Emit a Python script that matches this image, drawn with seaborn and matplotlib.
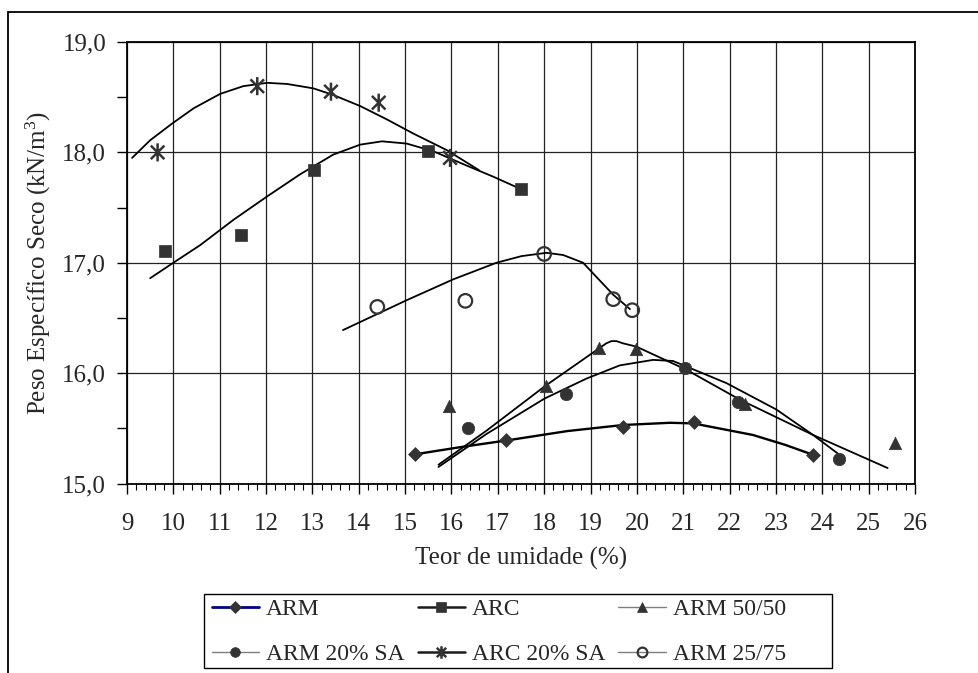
import numpy as np
import pandas as pd
import matplotlib
matplotlib.use("Agg")
import matplotlib.pyplot as plt
import seaborn as sns
from matplotlib.path import Path
from matplotlib.lines import Line2D
from matplotlib.patches import Rectangle
from matplotlib.ticker import MultipleLocator, FuncFormatter

arm_x = [15.22, 17.18, 19.70, 21.23, 23.81]
arm_y = [15.27, 15.39, 15.51, 15.56, 15.26]
arc_x = [9.82, 11.47, 13.03, 15.50, 17.49]
arc_y = [17.11, 17.25, 17.84, 18.01, 17.67]
arm5050_x = [15.95, 18.04, 19.18, 19.99, 22.33, 25.56]
arm5050_y = [15.70, 15.88, 16.23, 16.22, 15.72, 15.365]
arm20_x = [16.36, 18.48, 21.04, 22.18, 24.37]
arm20_y = [15.50, 15.81, 16.05, 15.74, 15.225]
arc20_x = [9.66, 11.81, 13.40, 14.43, 15.97]
arc20_y = [18.00, 18.60, 18.55, 18.45, 17.95]
arm2575_x = [14.40, 16.30, 18.00, 19.49, 19.90]
arm2575_y = [16.60, 16.655, 17.08, 16.67, 16.57]

# ---------------- trend curves ----------------
arm_fit_x = [15.22, 16.20, 17.19, 18.50, 19.70, 20.71, 21.21, 22.50, 23.20, 23.80]
arm_fit_y = [15.265, 15.33, 15.39, 15.475, 15.53, 15.55, 15.545, 15.44, 15.35, 15.26]
arc_fit_x = [9.50, 10.00, 10.58, 11.30, 12.02, 12.73, 13.45, 14.03, 14.50, 15.03, 15.61, 16.33, 16.90, 17.43]
arc_fit_y = [16.86, 17.00, 17.16, 17.39, 17.60, 17.80, 17.98, 18.07, 18.10, 18.08, 18.01, 17.88, 17.78, 17.68]
arm5050_fit_x = [15.72, 16.76, 18.01, 19.34, 19.45, 19.56, 19.70, 19.99, 21.07, 22.22, 23.80, 25.41]
arm5050_fit_y = [15.17, 15.48, 15.88, 16.27, 16.29, 16.29, 16.27, 16.24, 16.03, 15.76, 15.44, 15.14]
arm20_fit_x = [15.72, 16.76, 18.01, 18.91, 19.63, 20.35, 20.78, 21.93, 23.01, 23.80, 24.34]
arm20_fit_y = [15.15, 15.45, 15.77, 15.95, 16.07, 16.12, 16.11, 15.91, 15.67, 15.44, 15.27]
arc20_fit_x = [9.11, 9.50, 9.97, 10.44, 11.01, 11.51, 12.02, 12.45, 13.02, 13.45, 14.03, 14.60, 15.18, 15.90, 16.59]
arc20_fit_y = [17.95, 18.11, 18.26, 18.40, 18.53, 18.60, 18.63, 18.62, 18.58, 18.52, 18.42, 18.30, 18.17, 18.02, 17.84]
arm2575_fit_x = [13.66, 15.03, 16.04, 16.97, 17.51, 18.05, 18.41, 18.84, 19.13, 19.49, 19.85]
arm2575_fit_y = [16.39, 16.66, 16.85, 17.00, 17.06, 17.09, 17.07, 17.00, 16.87, 16.71, 16.58]

series_names = ["ARM", "ARC", "ARM 50/50", "ARM 20% SA", "ARC 20% SA", "ARM 25/75"]
xlabel = "Teor de umidade (%)"
ylabel = "Peso Específico Seco (kN/m$^3$)"

points = {
    "ARM": (arm_x, arm_y),
    "ARC": (arc_x, arc_y),
    "ARM 50/50": (arm5050_x, arm5050_y),
    "ARM 20% SA": (arm20_x, arm20_y),
    "ARC 20% SA": (arc20_x, arc20_y),
    "ARM 25/75": (arm2575_x, arm2575_y),
}
curves = {
    "ARM": (arm_fit_x, arm_fit_y),
    "ARC": (arc_fit_x, arc_fit_y),
    "ARM 50/50": (arm5050_fit_x, arm5050_fit_y),
    "ARM 20% SA": (arm20_fit_x, arm20_fit_y),
    "ARC 20% SA": (arc20_fit_x, arc20_fit_y),
    "ARM 25/75": (arm2575_fit_x, arm2575_fit_y),
}

# ---------------- style ----------------
sns.set_style("ticks")
plt.rcParams["font.family"] = ["Liberation Serif", "DejaVu Serif"]
plt.rcParams["mathtext.fontset"] = "custom"
plt.rcParams["mathtext.rm"] = "Liberation Serif"
plt.rcParams["mathtext.it"] = "Liberation Serif:italic"

star = Path([(0, -1), (0, 1), (-0.75, -0.75), (0.75, 0.75), (-0.75, 0.75), (0.75, -0.75)],
            [Path.MOVETO, Path.LINETO, Path.MOVETO, Path.LINETO, Path.MOVETO, Path.LINETO])

mc = "#333333"
styles = {
    "ARM":        dict(marker="D", s=50, fc=mc, ec=mc, lw=0.5, line="#000080", lw_leg=2.0, ms=6.5, clw=1.7),
    "ARC":        dict(marker="s", s=75, fc=mc, ec=mc, lw=0.5, line="#1a1a1a", lw_leg=1.8, ms=7.0, clw=1.3),
    "ARM 50/50":  dict(marker="^", s=80, fc=mc, ec=mc, lw=0.5, line="#7f7f7f", lw_leg=1.0, ms=7.0, clw=1.3),
    "ARM 20% SA": dict(marker="o", s=80, fc=mc, ec=mc, lw=0.5, line="#7f7f7f", lw_leg=1.0, ms=7.0, clw=1.3),
    "ARC 20% SA": dict(marker=star, s=170, fc="none", ec=mc, lw=1.8, line="#1a1a1a", lw_leg=1.8, ms=9.0, clw=1.3),
    "ARM 25/75":  dict(marker="o", s=95, fc="none", ec=mc, lw=1.6, line="#7f7f7f", lw_leg=1.0, ms=7.0, clw=1.3),
}

fig = plt.figure(figsize=(9.79, 6.73), dpi=100)
ax = fig.add_axes([127 / 979, 1 - 483.5 / 673, (915 - 127) / 979, (483.5 - 42) / 673])

ax.set_xlim(9, 26)
ax.set_ylim(15, 19)
ax.xaxis.set_major_locator(MultipleLocator(1))
ax.xaxis.set_minor_locator(MultipleLocator(0.2))
ax.yaxis.set_major_locator(MultipleLocator(1))
ax.yaxis.set_minor_locator(MultipleLocator(0.5))
ax.yaxis.set_major_formatter(FuncFormatter(lambda v, p: f"{v:.1f}".replace(".", ",")))
ax.xaxis.set_major_formatter(FuncFormatter(lambda v, p: f"{v:.0f}"))
ax.grid(True, which="major", color="#222222", lw=0.9)
ax.set_axisbelow(True)
for sp in ax.spines.values():
    sp.set_color("black")
    sp.set_linewidth(1.3)

ax.tick_params(axis="both", which="major", direction="out", length=7, width=1, labelsize=18,
               color="black")
ax.tick_params(axis="x", which="minor", direction="out", length=4, width=0.8, color="black")
ax.tick_params(axis="y", which="minor", direction="out", length=7, width=1, color="black")
ax.tick_params(axis="x", which="major", pad=14)
ax.tick_params(axis="y", which="major", pad=8)

# trend curves
for name in series_names:
    cx, cy = curves[name]
    dfc = pd.DataFrame({"x": cx, "y": cy})
    sns.lineplot(data=dfc, x="x", y="y", ax=ax, sort=False, color="black",
                 lw=styles[name]["clw"], legend=False, zorder=3)

# markers
for name in series_names:
    xs, ys = points[name]
    st = styles[name]
    df = pd.DataFrame({"x": xs, "y": ys})
    sns.scatterplot(data=df, x="x", y="y", ax=ax, marker=st["marker"], s=st["s"],
                    facecolor=st["fc"], edgecolor=st["ec"], linewidth=st["lw"],
                    legend=False, zorder=4)

ax.set_xlabel(xlabel, fontsize=18, labelpad=9)
ax.set_ylabel(ylabel, fontsize=18, labelpad=7)

# legend
handles = []
for name in series_names:
    st = styles[name]
    mew = max(st["lw"], 1.0) if st["fc"] == "none" else st["lw"]
    handles.append(Line2D([0], [0], color=st["line"], lw=st["lw_leg"], marker=st["marker"],
                          markersize=st["ms"], markerfacecolor=st["fc"],
                          markeredgecolor=st["ec"], markeredgewidth=mew, label=name))
order_idx = [0, 3, 1, 4, 2, 5]
leg = fig.legend([handles[i] for i in order_idx], [series_names[i] for i in order_idx],
                 ncol=3, loc="upper left", bbox_to_anchor=(207 / 979, 1 - 594 / 673),
                 borderaxespad=0, fontsize=17, frameon=False,
                 handlelength=2.0, handletextpad=0.3, columnspacing=0.55, labelspacing=1.0,
                 borderpad=0.2)
fig.add_artist(Rectangle((204 / 979, 1 - 668 / 673), 628 / 979, 74 / 673, transform=fig.transFigure,
                         fill=False, ec="black", lw=1.0))

# outer frame (chart area border, cropped at right/bottom)
fig.add_artist(Rectangle((8 / 979, -0.05), 1.2, (1 - 12 / 673) + 0.05, transform=fig.transFigure,
                         fill=False, ec="black", lw=1.3, clip_on=False))

fig.savefig("out.png", dpi=100)
